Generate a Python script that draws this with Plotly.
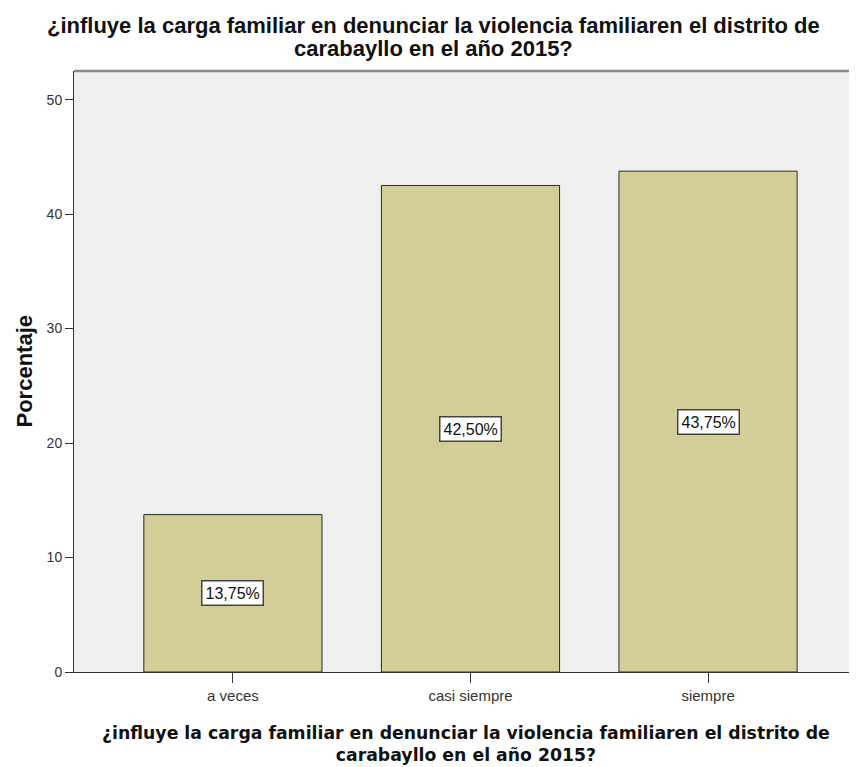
import plotly.graph_objects as go

categories = ["a veces", "casi siempre", "siempre"]
porcentaje = [13.75, 42.50, 43.75]
labels = ["13,75%", "42,50%", "43,75%"]
y_ticks = [0, 10, 20, 30, 40, 50]

titulo_l1 = "¿influye la carga familiar en denunciar la violencia familiaren el distrito de"
titulo_l2 = "carabayllo en el año 2015?"

xs = list(range(len(categories)))

fig = go.Figure()
fig.add_trace(go.Bar(
    x=xs, y=porcentaje, width=0.75,
    marker=dict(color="#d3ce98", line=dict(color="#2b2b2b", width=1)),
    hoverinfo="skip",
))

# etiquetas de porcentaje en el centro de cada barra
for i, v in enumerate(porcentaje):
    fig.add_annotation(
        x=xs[i], y=v / 2, text=labels[i], showarrow=False,
        font=dict(family="Liberation Sans, Arial", size=16, color="#111"),
        bgcolor="white", bordercolor="#444", borderwidth=1.5, borderpad=3,
    )

# titulo superior (dos lineas)
for txt, shift in [(titulo_l1, 31), (titulo_l2, 8)]:
    fig.add_annotation(
        xref="paper", yref="paper", x=0.4585, y=1, yshift=shift,
        xanchor="center", yanchor="bottom", showarrow=False,
        text="<b>" + txt + "</b>",
        font=dict(family="Liberation Sans, Arial", size=22, color="#111"),
    )
# titulo eje x
fig.add_annotation(
    xref="paper", yref="paper", x=0.5, y=0, yshift=-49,
    xanchor="center", yanchor="top", showarrow=False,
    text="<b>" + titulo_l1 + "<br>" + titulo_l2 + "</b>",
    font=dict(family="DejaVu Sans", size=17.3, color="#111"),
)
# titulo eje y
fig.add_annotation(
    xref="paper", yref="paper", x=0, y=0.5, xshift=-50,
    xanchor="center", yanchor="middle", showarrow=False, textangle=-90,
    text="<b>Porcentaje</b>",
    font=dict(family="Liberation Sans, Arial", size=22, color="#111"),
)

fig.update_layout(
    width=849, height=759,
    paper_bgcolor="white", plot_bgcolor="#efefef",
    margin=dict(l=66, r=0, t=63, b=95),
    showlegend=False,
    font=dict(family="Liberation Sans, Arial", color="#222"),
    xaxis=dict(
        tickmode="array", tickvals=xs, ticktext=categories,
        range=[-0.669, 2.627], showgrid=False, zeroline=False,
        ticks="outside", ticklen=10, tickcolor="#333",
        showline=True, linecolor="#333", linewidth=1,
        tickfont=dict(size=15, color="#333"), automargin=False,
    ),
    yaxis=dict(
        range=[0, 52.5], tickvals=y_ticks, showgrid=False, zeroline=False,
        ticks="outside", ticklen=8, tickcolor="#333",
        showline=True, linecolor="#333", linewidth=1,
        tickfont=dict(size=14, color="#333"), automargin=False,
    ),
)

fig.add_shape(type="line", xref="paper", yref="paper", x0=0, x1=1, y0=1, y1=1,
              line=dict(color="#888", width=2.5))

fig.write_html("out.html")
